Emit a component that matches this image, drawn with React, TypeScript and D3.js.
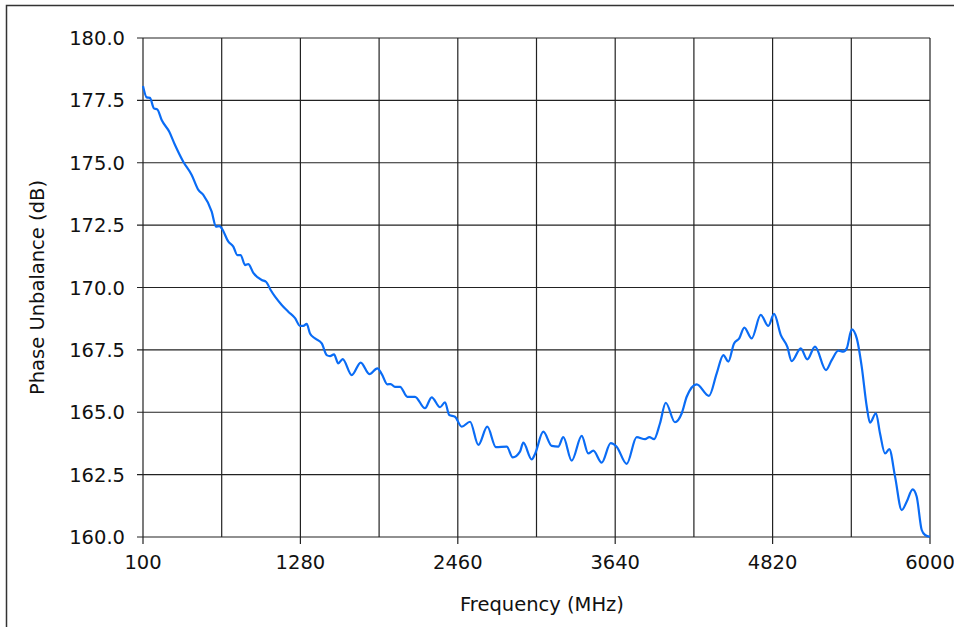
import React, { useEffect, useRef } from 'react';
import * as d3 from 'd3';

// frequency points (MHz)
const freqs = [
    100, 128, 152, 182, 207, 240, 297, 340, 402, 465, 515, 552, 615, 647, 672, 690,
    740, 777, 807, 832, 865, 889, 927, 990, 1022, 1057, 1090, 1140, 1189, 1240, 1277,
    1302, 1327, 1352, 1390, 1440, 1477, 1502, 1532, 1564, 1597, 1665, 1732, 1797, 1857,
    1890, 1932, 1957, 1989, 2027, 2082, 2139, 2214, 2264, 2327, 2364, 2396, 2439, 2489,
    2552, 2614, 2681, 2746, 2827, 2872, 2926, 2951, 3014, 3039, 3101, 3164, 3213, 3251,
    3314, 3389, 3438, 3476, 3539, 3606, 3651, 3726, 3801, 3864, 3896, 3931, 3976, 4019,
    4088, 4139, 4176, 4251, 4343, 4401, 4451, 4488, 4531, 4570, 4608, 4663, 4731, 4788,
    4831, 4881, 4930, 4963, 5031, 5080, 5138, 5220, 5263, 5313, 5350, 5376, 5413, 5451,
    5488, 5526, 5550, 5595, 5625, 5663, 5695, 5738, 5788, 5825, 5870, 5900, 5938, 5963, 6000,
];

// phase unbalance values at those points
const unbalance = [
    178.08, 177.62, 177.6, 177.18, 177.14, 176.71, 176.24, 175.71, 175.04, 174.51, 173.91, 173.71, 173.04, 172.44, 172.46, 172.37,
    171.84, 171.64, 171.3, 171.3, 170.9, 170.94, 170.59, 170.3, 170.23, 169.9, 169.63, 169.3, 169.03, 168.77, 168.46,
    168.46, 168.54, 168.16, 167.96, 167.76, 167.29, 167.25, 167.32, 166.96, 167.13, 166.49, 166.99, 166.53, 166.76,
    166.53, 166.12, 166.13, 166.02, 166.02, 165.62, 165.62, 165.16, 165.6, 165.2, 165.4, 164.89, 164.82, 164.42,
    164.62, 163.69, 164.42, 163.6, 163.62, 163.19, 163.42, 163.78, 163.11, 163.33, 164.22, 163.65, 163.62, 164.0,
    163.06, 164.05, 163.35, 163.46, 162.98, 163.76, 163.62, 162.93, 164.0, 163.92, 164.0, 163.92, 164.56, 165.38,
    164.6, 164.96, 165.62, 166.12, 165.66, 166.56, 167.29, 167.03, 167.76, 167.96, 168.39, 167.96, 168.9, 168.46,
    168.94, 168.1, 167.63, 167.05, 167.56, 167.12, 167.63, 166.69, 167.09, 167.47, 167.43, 167.56, 168.32, 167.96,
    166.83, 165.22, 164.58, 164.96, 164.16, 163.35, 163.52, 162.42, 161.08, 161.41, 161.91, 161.62, 160.28, 160.08, 160.01,
];

const xGrid = [100, 690, 1280, 1870, 2460, 3050, 3640, 4230, 4820, 5410, 6000];
const xTickLabels = [100, 1280, 2460, 3640, 4820, 6000];
const yTicks = [160, 162.5, 165, 167.5, 170, 172.5, 175, 177.5, 180];

const width = 954;
const height = 627;
const font = 'Verdana, "DejaVu Sans", sans-serif';

export default function App() {
    const ref = useRef(null);

    useEffect(() => {
        const svg = d3.select(ref.current);
        svg.selectAll('*').remove();

        const left = 143, right = 930, top = 38, bottom = 537;

        const x = d3.scaleLinear().domain([100, 6000]).range([left, right]);
        const y = d3.scaleLinear().domain([160, 180]).range([bottom, top]);

        // outer frame
        svg.append('rect')
            .attr('x', 6.5).attr('y', 5.5)
            .attr('width', 1000).attr('height', 1000)
            .attr('fill', 'none').attr('stroke', '#333').attr('stroke-width', 1.5);

        // grid
        svg.append('g').selectAll('line').data(xGrid).enter().append('line')
            .attr('x1', d => x(d)).attr('x2', d => x(d))
            .attr('y1', top).attr('y2', bottom)
            .attr('stroke', '#222').attr('stroke-width', 1.2);
        svg.append('g').selectAll('line').data(yTicks).enter().append('line')
            .attr('x1', left - 6).attr('x2', right)
            .attr('y1', d => y(d)).attr('y2', d => y(d))
            .attr('stroke', '#222').attr('stroke-width', 1.2);
        // x tick marks
        svg.append('g').selectAll('line').data(xTickLabels).enter().append('line')
            .attr('x1', d => x(d)).attr('x2', d => x(d))
            .attr('y1', bottom).attr('y2', bottom + 7)
            .attr('stroke', '#222').attr('stroke-width', 1.2);

        svg.append('g').selectAll('text').data(yTicks).enter().append('text')
            .attr('x', left - 18).attr('y', d => y(d))
            .attr('dy', '0.36em')
            .attr('text-anchor', 'end')
            .attr('font-family', font).attr('font-size', 19.5).attr('fill', '#111')
            .text(d => d.toFixed(1));
        svg.append('g').selectAll('text').data(xTickLabels).enter().append('text')
            .attr('x', d => x(d)).attr('y', bottom + 32)
            .attr('text-anchor', 'middle')
            .attr('font-family', font).attr('font-size', 19.5).attr('fill', '#111')
            .text(d => d);

        svg.append('text')
            .attr('x', 542).attr('y', 611)
            .attr('text-anchor', 'middle')
            .attr('font-family', font).attr('font-size', 19.5).attr('fill', '#111')
            .text('Frequency (MHz)');
        svg.append('text')
            .attr('transform', `translate(44, ${(top + bottom) / 2}) rotate(-90)`)
            .attr('text-anchor', 'middle')
            .attr('font-family', font).attr('font-size', 19.5).attr('fill', '#111')
            .text('Phase Unbalance (dB)');

        const line = d3.line<number>()
            .x((_d, i) => x(freqs[i]))
            .y(d => y(d))
            .curve(d3.curveMonotoneX);

        svg.append('path')
            .attr('fill', 'none')
            .attr('stroke', '#0a6cf5')
            .attr('stroke-width', 2.2)
            .attr('d', line(unbalance));
    }, []);

    return (
        <svg ref={ref} width={width} height={height} viewBox={`0 0 ${width} ${height}`}
            style={{ position: 'absolute', left: 0, top: 0, background: '#fff' }}>
        </svg>
    );
}
